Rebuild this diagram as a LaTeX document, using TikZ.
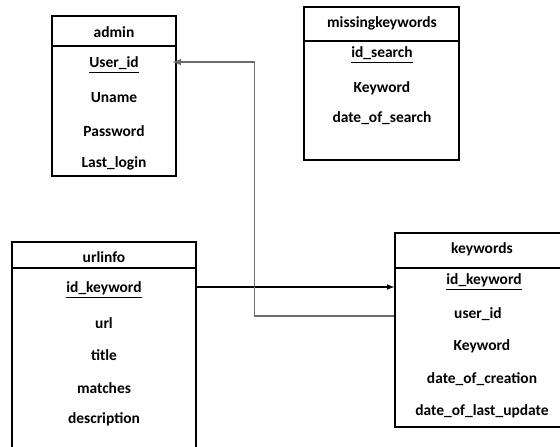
\documentclass[tikz,border=0pt]{standalone}
\usepackage{fontspec}
\setmainfont{Carlito}
\tikzset{
  tbl/.style={draw, line width=0.9pt, inner sep=0pt},
  fld/.style={inner sep=1pt, font=\fontsize{11}{13}\selectfont\bfseries},
  link/.style={line width=0.8pt, -latex}
}

\begin{document}
\begin{tikzpicture}[x=0.25mm,y=-0.25mm]
\useasboundingbox (0,0) rectangle (560,446);
\clip (0,0) rectangle (560,446);

% admin
\node[tbl, minimum width=31mm, minimum height=40mm] (admin) at (114,96) {};
\draw[line width=0.9pt] (52,46) -- (176,46);
\node[fld] (adTitle) at (114,32) {admin};
\node[fld] (adUser) at (114,65) {\underline{User\_id}};
\node[fld] (adName) at (114,98) {Uname};
\node[fld] (adPass) at (114,131) {Password};
\node[fld] (adLast) at (114,163) {Last\_login};

% missingkeywords
\node[tbl, minimum width=38.75mm, minimum height=38.25mm] (missing) at (381.5,83.5) {};
\draw[line width=0.9pt] (304,41) -- (459,41);
\node[fld] (msTitle) at (382,23) {missingkeywords};
\node[fld] (msId) at (382,55) {\underline{id\_search}};
\node[fld] (msKey) at (382,88) {Keyword};
\node[fld] (msDate) at (382,118) {date\_of\_search};

% urlinfo
\node[tbl, minimum width=46mm, minimum height=56mm] (urlinfo) at (104,354) {};
\draw[line width=0.9pt] (12,268) -- (196,268);
\node[fld] (uiTitle) at (104,257) {urlinfo};
\node[fld] (uiKey) at (104,290) {\underline{id\_keyword}};
\node[fld] (uiUrl) at (104,323) {url};
\node[fld] (uiTitle2) at (104,355) {title};
\node[fld] (uiMatch) at (104,388) {matches};
\node[fld] (uiDesc) at (104,419) {description};

% keywords
\node[tbl, minimum width=43.75mm, minimum height=48.5mm] (keywords) at (482.5,330) {};
\draw[line width=0.9pt] (395,268) -- (570,268);
\node[fld] (kwTitle) at (482,249) {keywords};
\node[fld] (kwKey) at (484,282) {\underline{id\_keyword}};
\node[fld] (kwUser) at (478,314) {user\_id};
\node[fld] (kwWord) at (482,346) {Keyword};
\node[fld] (kwCreate) at (482,379) {date\_of\_creation};
\node[fld] (kwUpdate) at (482,411) {date\_of\_last\_update};

% relations
\draw[link] ([yshift=0.75mm]uiKey -| urlinfo.east) -- ([yshift=0.75mm]uiKey -| keywords.west);
\draw[link, line width=1pt, gray!85!black, shorten >=-1mm] ([yshift=-0.5mm]kwUser -| keywords.west) -- ++(-140,0) |- ([yshift=0.75mm]adUser -| admin.east);
\end{tikzpicture}
\end{document}
